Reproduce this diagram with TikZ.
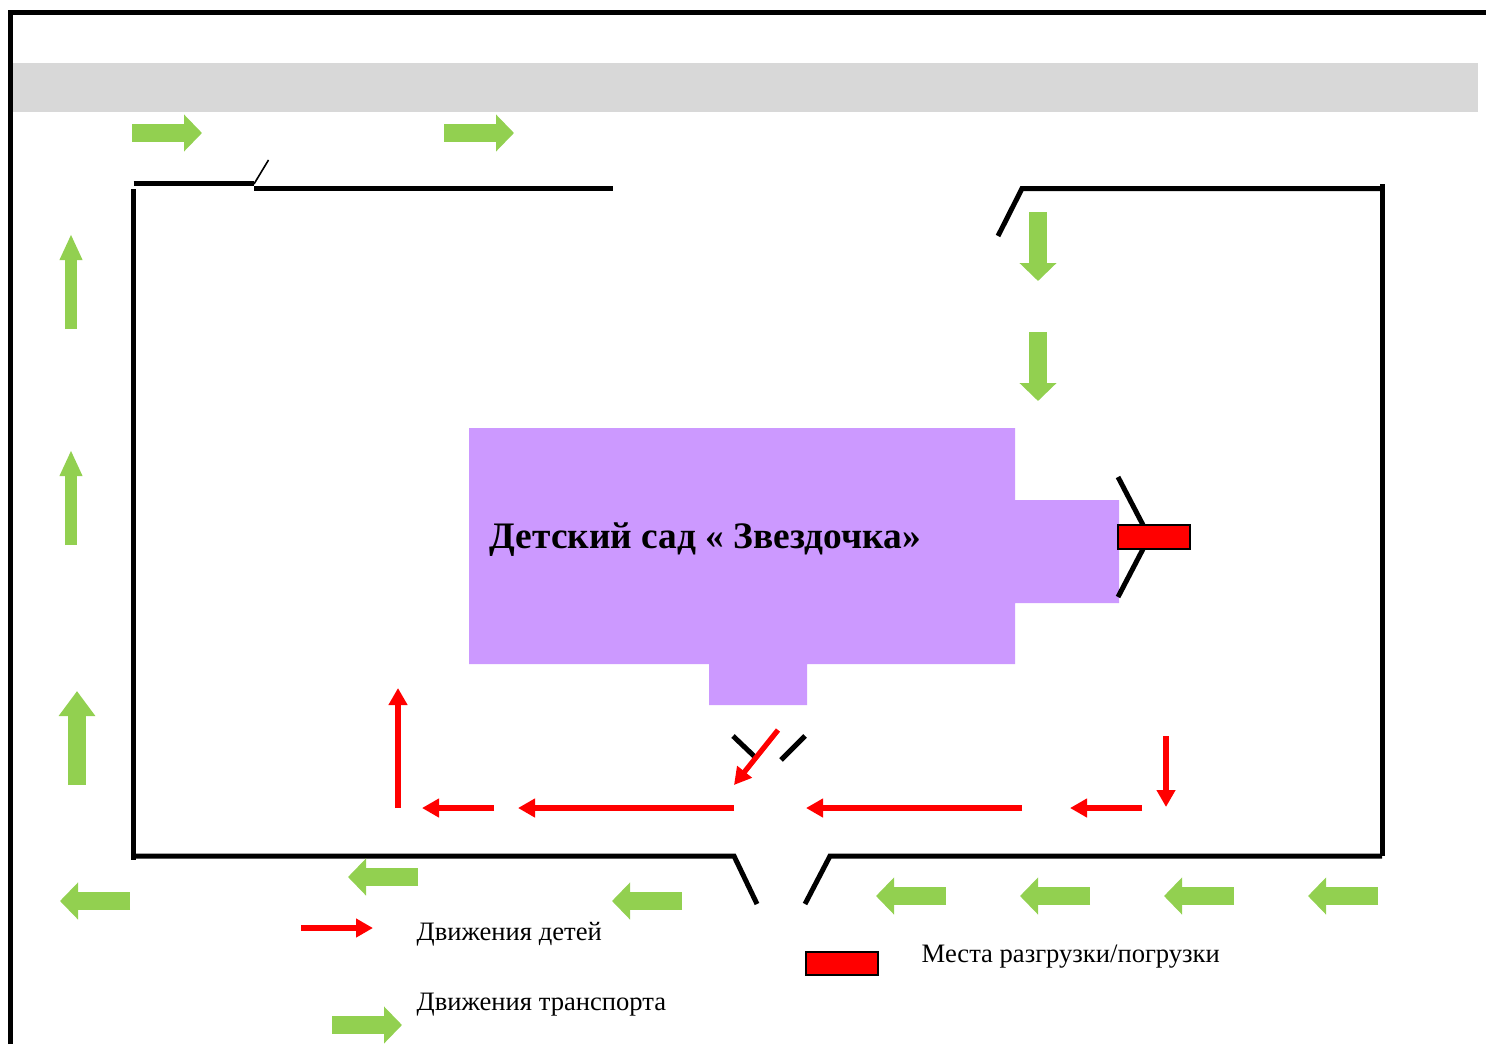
\documentclass[tikz,border=0pt]{standalone}
\usepackage{fontspec}
\setmainfont{Liberation Serif}
\usetikzlibrary{arrows.meta}
\definecolor{carGreen}{HTML}{92D050}
\definecolor{roadGrey}{HTML}{D8D8D8}
\definecolor{houseLilac}{HTML}{CC99FF}

\begin{document}
\begin{tikzpicture}[
  x=0.5pt, y=-0.5pt,
  border/.style={line width=2.5pt},
  fence/.style={line width=2.5pt},
  thinfence/.style={line width=0.8pt},
  caarr/.style={-{Triangle[length=9pt,width=18pt]}, line width=9pt, carGreen},
  caarrs/.style={-{Triangle[length=13pt,width=10.5pt]}, line width=6pt, carGreen},
  caarrt/.style={-{Triangle[length=12.5pt,width=17.5pt]}, line width=9pt, carGreen},
  kidarr/.style={-{Triangle[length=8.5pt,width=9pt]}, line width=2.6pt, red},
  unload/.style={draw=black, line width=0.7pt, fill=red},
  lbl/.style={anchor=base west, inner sep=0pt, font=\fontsize{13.3}{16}\selectfont},
  title/.style={anchor=base west, inner sep=0pt, font=\fontsize{18.7}{22}\selectfont\bfseries}
]
\useasboundingbox (0,0) rectangle (1486,1044);
% road and outer frame
\fill[roadGrey] (12,63) rectangle (1478,112);
\draw[border] (10,1044) -- (10,12.5) -- (1486,12.5);
% fence
\draw[fence] (133.5,183.5) -- (254,183.5);
\draw[thinfence] (254,184) -- (268.5,160);
\draw[fence] (254,188.5) -- (613,188.5);
\draw[fence] (133.5,189) -- (133.5,860);
\draw[fence] (133.5,856) -- (734,856) -- (757,904);
\draw[fence] (805,904) -- (830,856) -- (1382,856);
\draw[fence] (1382,184) -- (1382,856);
\draw[fence] (998,236) -- (1022,188.5) -- (1382,188.5);
% building
\fill[houseLilac] (469,428) -- (1015,428) -- (1015,500) -- (1119,500) -- (1119,603)
  -- (1015,603) -- (1015,664) -- (807,664) -- (807,705) -- (709,705) -- (709,664)
  -- (469,664) -- cycle;
\node[title] (sad) at (489,548.5) {Детский сад « Звездочка»};
% doors
\draw[fence] (1118,477) -- (1143,525);
\draw[fence] (1143,549) -- (1118,597);
\draw[fence] (733,736) -- (755,757);
\draw[fence] (781,760) -- (805,736);
\draw[unload] (1118,525) rectangle (1190,549);
% transport
\draw[caarr] (132,133) -- (202,133);
\draw[caarr] (444,133) -- (514,133);
\draw[caarr] (1038,212) -- (1038,281);
\draw[caarr] (1038,332) -- (1038,401);
\draw[caarrs] (71,329) -- (71,234);
\draw[caarrs] (71,545) -- (71,450);
\draw[caarrt] (77,785) -- (77,691);
\draw[caarr] (1378,896) -- (1308,896);
\draw[caarr] (1234,896) -- (1164,896);
\draw[caarr] (1090,896) -- (1020,896);
\draw[caarr] (946,896) -- (876,896);
\draw[caarr] (682,901) -- (612,901);
\draw[caarr] (418,877) -- (348,877);
\draw[caarr] (130,901) -- (60,901);
% children
\draw[kidarr] (1166,736) -- (1166,807);
\draw[kidarr] (1142,808) -- (1070,808);
\draw[kidarr] (1022,808) -- (806,808);
\draw[kidarr] (734,808) -- (518,808);
\draw[kidarr] (494,808) -- (422,808);
\draw[kidarr] (398,808) -- (398,688);
\draw[kidarr] (778,730) -- (734,785);
% legend
\draw[kidarr] (301,928) -- (373,928);
\draw[caarr] (332,1025) -- (402,1025);
\draw[unload] (806,952) rectangle (878,975);
\node[lbl] (kids) at (416.3,940) {Движения детей};
\node[lbl] (cars) at (416.3,1010) {Движения транспорта};
\node[lbl] (load) at (921.3,962) {Места разгрузки/погрузки};
\end{tikzpicture}
\end{document}
